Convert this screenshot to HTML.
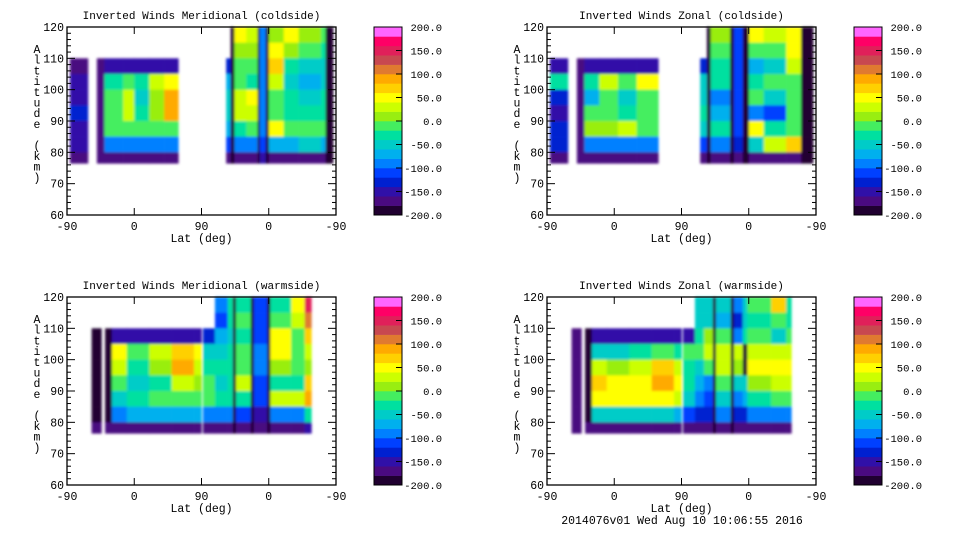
<!DOCTYPE html>
<html><head><meta charset="utf-8"><style>
html,body{margin:0;padding:0;background:#fff;}
svg{display:block;font-family:"Liberation Mono",monospace;}
</style></head><body>
<svg id="chart" width="960" height="540" viewBox="0 0 960 540" xmlns="http://www.w3.org/2000/svg">
<defs><filter id="soft" x="-5%" y="-5%" width="110%" height="110%"><feGaussianBlur stdDeviation="1.3"/></filter></defs>
</svg>
<script>
// Colour scale
const levelColors = ["#200030","#4a0a80","#3010a8","#0020d0","#0040ff","#0080ff","#00b0ee","#00ccc8","#00e0a0","#44ee60","#99ee11","#ccff00","#ffff00","#ffd000","#ffaa00","#e07a30","#c84850","#e0205a","#ff0066","#ff66ff"];
const cbTicks = [200,150,100,50,0,-50,-100,-150,-200];
const xTickLabels = ["-90","0","90","0","-90"];
const yTicks = [60,70,80,90,100,110,120];
const rowTops = [120,115,110,105,100,95,90,85,80];
const n = null;

// Panel 1: Meridional coldside
const p1Starts=[4,40,50,75,90,110,130,213,219,224,240,255,258,266,270,290,310,340,346];
const p1Ends=[28,50,75,90,110,130,149,219,224,240,255,258,266,270,290,310,340,346,356];
const p1Vals=[
[n,n,-170,-150,-150,-140,-150,-150,-170],
[n,n,-170,-170,-170,-170,-170,-170,-170],
[n,n,-150,-40,-20,-20,-20,-100,-170],
[n,n,-150,-20,30,20,-20,-100,-170],
[n,n,-150,-30,-60,-40,-20,-100,-170],
[n,n,-150,20,10,0,-20,-100,-170],
[n,n,-150,40,90,80,-10,-100,-170],
[n,n,-140,-80,-60,-60,-80,-120,-170],
[-190,-190,-190,-190,-190,-190,-190,-190,-190],
[40,10,-20,-20,30,20,-30,-100,-170],
[30,0,-20,-40,40,20,-20,-100,-170],
[-190,-190,-190,-190,-190,-190,-190,-190,-190],
[-90,-90,-90,-90,-90,-90,-90,-110,-160],
[-190,-190,-190,-190,-190,-190,-190,-190,-190],
[10,40,60,20,-20,-20,40,-80,-170],
[40,10,-40,-60,-40,-30,-10,-80,-170],
[0,-20,-60,-70,-60,-40,-20,-60,-170],
[-20,-40,-60,-60,-40,-40,-20,-80,-170],
[-190,-190,-190,-190,-190,-190,-190,-190,-190]];

// Panel 2: Zonal coldside
const p2Starts=[4,40,50,70,95,120,205,214,219,245,250,262,270,290,320,340];
const p2Ends=[28,50,70,95,120,149,214,219,245,250,262,270,290,320,340,356];
const p2Vals=[
[n,n,-150,-40,-130,-150,-130,-140,-170],
[n,n,-170,-170,-170,-170,-170,-170,-170],
[n,n,-150,-40,-80,-20,10,-100,-170],
[n,n,-150,30,-20,-10,10,-100,-170],
[n,n,-150,-20,-60,-30,30,-100,-170],
[n,n,-150,40,-20,-20,-20,-100,-170],
[n,n,-140,-60,-60,-40,-60,-120,-170],
[-190,-190,-190,-190,-190,-190,-190,-190,-190],
[10,-20,-30,-40,-90,-80,-30,-100,-170],
[-190,-190,-190,-190,-190,-190,-190,-190,-190],
[-120,-120,-120,-120,-120,-120,-120,-130,-170],
[-190,-190,-190,-190,-190,-190,-190,-190,-190],
[40,-10,-80,-30,-20,-100,40,-60,-170],
[20,-20,-50,-20,-60,-120,-40,30,-170],
[40,40,20,-20,-20,-20,-20,60,-170],
[-190,-190,-190,-190,-190,-190,-190,-190,-190]];

// Panel 3: Meridional warmside
const p3Starts=[33,51,60,80,110,140,170,182,198,215,222,226,246,250,268,272,300,318];
const p3Ends=[46,60,80,110,140,170,180,198,215,222,226,246,250,268,272,300,318,327];
const p3Vals=[
[n,n,-190,-190,-190,-190,-190,-190,-170],
[n,n,-190,-190,-190,-190,-190,-190,-170],
[n,n,-150,40,30,-20,-60,-90,-170],
[n,n,-150,-20,-40,-60,-40,-80,-170],
[n,n,-150,20,0,-40,-20,-80,-170],
[n,n,-150,70,80,30,-20,-80,-170],
[n,n,-150,40,20,0,-20,-80,-170],
[n,n,-140,-60,-30,-20,-20,-100,-170],
[-100,-120,-80,-50,-40,-60,-30,-100,-170],
[-40,-40,-60,-40,-40,-40,-40,-100,-170],
[-190,-190,-190,-190,-190,-190,-190,-190,-190],
[-30,-20,-40,-20,-10,30,-30,-120,-170],
[-190,-190,-190,-190,-190,-190,-190,-190,-190],
[-110,-110,-110,-100,-100,-110,-120,-150,-180],
[-190,-190,-190,-190,-190,-190,-190,-190,-190],
[-40,-20,40,50,0,-40,20,-90,-170],
[40,20,-10,-20,-20,-30,30,-90,-170],
[140,100,60,30,0,60,80,-40,-160]];

// Panel 4: Zonal warmside
const p4Starts=[33,51,60,80,110,140,170,182,198,210,222,226,246,250,262,268,300,320];
const p4Ends=[46,60,80,110,140,170,180,198,210,222,226,246,250,262,268,300,320,327];
const p4Vals=[
[n,n,-170,-170,-170,-170,-170,-170,-170],
[n,n,-190,-190,-190,-190,-190,-190,-170],
[n,n,-150,-60,20,60,40,-60,-170],
[n,n,-150,-60,0,40,40,-60,-170],
[n,n,-150,-40,30,50,40,-60,-170],
[n,n,-150,-20,60,80,40,-60,-170],
[n,n,-150,-30,20,40,20,-80,-170],
[n,n,-150,-20,-40,-40,-60,-120,-170],
[-60,-60,-40,-20,-60,-80,-100,-130,-170],
[-60,-60,0,30,-20,-100,-120,-130,-170],
[-190,-190,-190,-190,-190,-190,-190,-190,-190],
[-60,-80,-20,30,20,-20,-60,-100,-170],
[-190,-190,-190,-190,-190,-190,-190,-190,-190],
[-100,-130,-90,20,0,-60,-100,-130,-170],
[-60,-60,-30,-190,-190,-60,-80,-130,-170],
[-20,-40,-20,20,40,0,-40,-100,-170],
[70,-20,-60,20,40,20,-20,-90,-170],
[-40,-40,-20,20,40,20,-20,-90,-170]];

const panelTitles=["Inverted Winds Meridional (coldside)","Inverted Winds Zonal (coldside)","Inverted Winds Meridional (warmside)","Inverted Winds Zonal (warmside)"];
const panelNames=["meridional-coldside","zonal-coldside","meridional-warmside","zonal-warmside"];

const NS="http://www.w3.org/2000/svg";
const svg=document.getElementById("chart");
function mk(tag,attrs,parent){const e=document.createElementNS(NS,tag);for(const k in attrs)e.setAttribute(k,attrs[k]);(parent||svg).appendChild(e);return e;}
function colorOf(v){let i=Math.floor((v+200)/20);if(i<0)i=0;if(i>19)i=19;return levelColors[i];}

const W=269,H=188;
const origins=[[67,27],[547,27],[67,297],[547,297]];
const datasets=[[p1Starts,p1Ends,p1Vals],[p2Starts,p2Ends,p2Vals],[p3Starts,p3Ends,p3Vals],[p4Starts,p4Ends,p4Vals]];

origins.forEach((o,pi)=>{
  const ox=o[0],oy=o[1];
  const xs=p=>ox+p*W/360;
  const ys=a=>oy+(120-a)*H/60;
  const g=mk("g",{});
  
  
  const [st,en,vals]=datasets[pi];
  const cells=mk("g",{filter:"url(#soft)"},g);
  
  
  for(let c=0;c<st.length;c++){
    for(let r=0;r<rowTops.length;r++){
      const v=vals[c][r]; if(v===null)continue;
      let top=rowTops[r], bot=rowTops[r]-5;
      if(r===rowTops.length-1) bot=76.5;
      const rc=mk("rect",{x:xs(st[c]).toFixed(2),y:ys(top).toFixed(2),width:(xs(en[c])-xs(st[c])+0.3).toFixed(2),height:(ys(bot)-ys(top)+0.3).toFixed(2),fill:colorOf(v)},cells);
      
      
    }
  }
  const fr=mk("rect",{x:ox,y:oy,width:W,height:H,fill:"none",stroke:"#000","stroke-width":1.3},g);
  
  
  for(let a=60;a<=120;a+=2){
    const len=(a%10===0)?8:4;
    mk("line",{x1:ox,x2:ox+len,y1:ys(a),y2:ys(a),stroke:"#000","stroke-width":1},g);
    mk("line",{x1:ox+W,x2:ox+W-len,y1:ys(a),y2:ys(a),stroke:"#000","stroke-width":1},g);
  }
  yTicks.forEach(a=>{
    const t=mk("text",{x:ox-3,y:ys(a)+4,"text-anchor":"end","font-size":"11.5"},g);
    t.textContent=a;
    
    
  });
  xTickLabels.forEach((lb,i)=>{
    const x=xs(i*90);
    mk("line",{x1:x,x2:x,y1:oy+H,y2:oy+H-7,stroke:"#000"},g);
    mk("line",{x1:x,x2:x,y1:oy,y2:oy+7,stroke:"#000"},g);
    const t=mk("text",{x:x,y:oy+H+15,"text-anchor":"middle","font-size":"11.5"},g);
    t.textContent=lb;
    
    
  });
  const xt=mk("text",{x:ox+W/2,y:oy+H+27,"text-anchor":"middle","font-size":"11.5"},g);
  xt.textContent="Lat (deg)";
  
  
  const yt=mk("text",{x:ox-30,y:oy+25,"text-anchor":"middle","font-size":"11.5"},g);
  
  
  "Altitude (km)".split("").forEach((ch,i)=>{const s=mk("tspan",{x:ox-30,y:oy+26+i*10.7},yt);s.textContent=ch===" "?"\u00a0":ch;});
  const tt=mk("text",{x:ox+W/2,y:oy-8,"text-anchor":"middle","font-size":"11"},g);
  tt.textContent=panelTitles[pi];
  
  
  const cbx=ox+307, cbw=28;
  const cb=mk("g",{},g);
  
  
  const bh=H/levelColors.length;
  levelColors.forEach((c,i)=>{mk("rect",{x:cbx,y:(oy+H-(i+1)*bh).toFixed(2),width:cbw,height:(bh+0.3).toFixed(2),fill:c},cb);});
  mk("rect",{x:cbx,y:oy,width:cbw,height:H,fill:"none",stroke:"#000","stroke-width":1},cb);
  cbTicks.forEach(v=>{
    const y=oy+(200-v)*H/400;
    if(v<200&&v>-200) mk("line",{x1:cbx+cbw-6,x2:cbx+cbw,y1:y,y2:y,stroke:"#000"},cb);
    const t=mk("text",{x:ox+375,y:y+4,"text-anchor":"end","font-size":"10.5"},cb);
    t.textContent=v.toFixed(1);
    
    
  });
});
const ft=mk("text",{x:682,y:524,"text-anchor":"middle","font-size":"11.5"});
ft.textContent="2014076v01 Wed Aug 10 10:06:55 2016";


</script>
</body></html>
